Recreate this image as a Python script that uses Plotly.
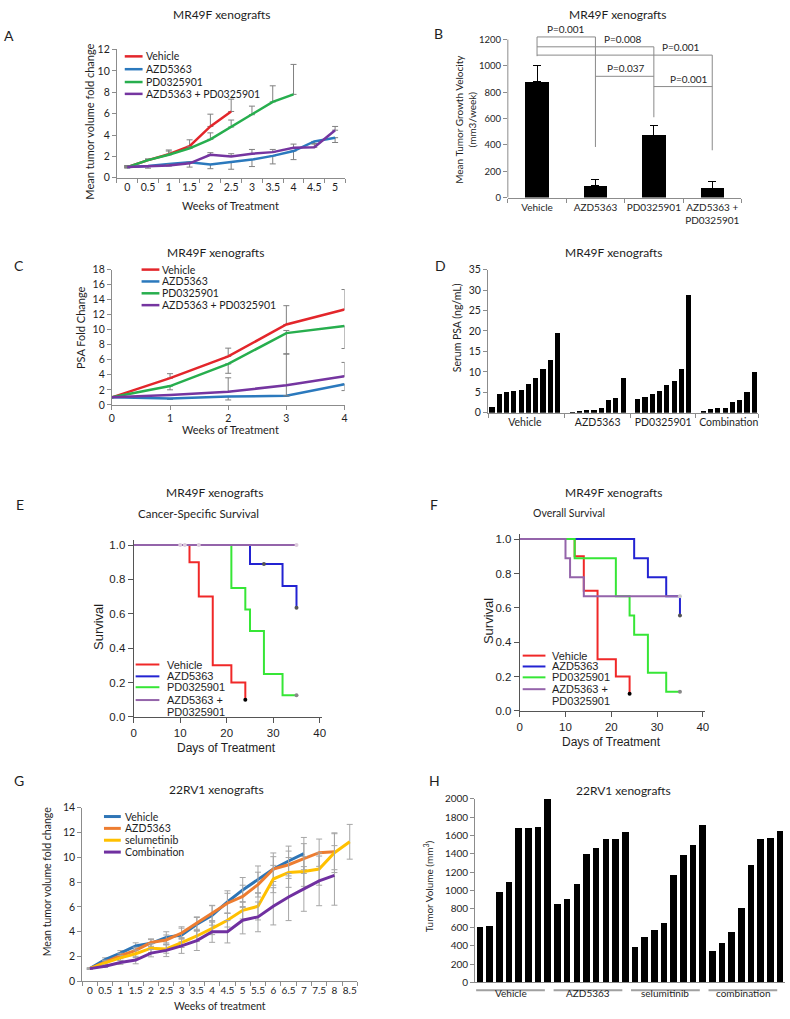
import plotly.graph_objects as go

W, H = 790, 1019

# ===================== DATA =====================
# Panel A  (MR49F tumour volume fold change)
A_weeks = ["0", "0.5", "1", "1.5", "2", "2.5", "3", "3.5", "4", "4.5", "5"]
A_vehicle = [1.0, 1.65, 2.2, 2.95, 4.8, 6.2]
A_vehicle_err = [0.15, 0.1, 0.4, 0.6, 1.15, 1.15]
A_azd = [1.0, 1.1, 1.3, 1.45, 1.25, 1.45, 1.7, 2.05, 2.5, 3.4, 3.75]
A_azd_err = [0.1, 0.2, 0.2, 0.45, 0.4, 0.65, 0.65, 0.75, 0.8, 0.2, 0.45]
A_pd = [1.0, 1.65, 2.15, 2.75, 3.6, 4.75, 5.9, 7.1, 7.8]
A_pd_err = [0.1, 0.1, 0.35, 0.15, 0.6, 0.65, 0.8, 1.5, 2.8]
A_combo = [1.0, 1.05, 1.15, 1.35, 2.15, 2.0, 2.25, 2.4, 2.8, 2.85, 4.45]
A_combo_err = [0.1, 0.1, 0.1, 0.1, 0.2, 0.25, 0.4, 0.25, 0.35, 0.3, 0.35]

# Panel B  (growth velocity)
B_groups = ["Vehicle", "AZD5363", "PD0325901", "AZD5363 +<br>PD0325901"]
B_velocity = [880, 90, 475, 70]
B_err = [120, 45, 75, 55]
B_brackets = [(0, 1, 1220), (0, 2, 1145), (0, 3, 1082), (1, 2, 921), (2, 3, 843)]
B_pvals = ["P=0.001", "P=0.008", "P=0.001", "P=0.037", "P=0.001"]
B_pval_x = [0.5, 1.48, 2.47, 1.53, 2.61]
B_drops = [(0, 1220, 1074), (1, 1220, 384), (2, 1145, 610), (3, 1082, 359)]

# Panel C  (PSA fold change)
C_weeks = [0, 1, 2, 3, 4]
C_vehicle = [1.0, 3.55, 6.45, 10.7, 12.7]
C_vehicle_plus = [0, 0.6, 1.1, 2.5, 2.65]
C_azd = [1.0, 0.85, 1.1, 1.2, 2.75]
C_azd_minus = [0, 0.12, 0.45, 0, 0.85]
C_pd = [1.0, 2.5, 5.45, 9.55, 10.5]
C_pd_plus = [0, 0, 0, 0.35, 0]
C_pd_minus = [0, 0.5, 1.25, 2.8, 3.0]
C_combo = [1.0, 1.3, 1.75, 2.6, 3.8]
C_combo_plus = [0, 0, 1.85, 4.2, 1.85]
C_combo_minus = [0, 0, 0, 1.4, 0]

# Panel D  (serum PSA per animal)
D_groups = ["Vehicle", "AZD5363", "PD0325901", "Combination"]
D_vehicle = [1.3, 4.6, 5.0, 5.3, 5.5, 7.1, 8.4, 10.6, 13.0, 19.5]
D_azd = [0.2, 0.5, 0.6, 0.7, 1.2, 3.0, 3.6, 8.4]
D_pd = [3.3, 3.9, 4.5, 5.2, 6.9, 7.7, 10.6, 28.7]
D_combo = [0.5, 0.8, 1.1, 1.1, 2.7, 3.1, 5.0, 9.9]

# Panel E  (cancer-specific survival, Kaplan-Meier steps)
E_vehicle_t = [0, 12, 14, 17, 21, 24]
E_vehicle_s = [1.0, 0.9, 0.7, 0.3, 0.2, 0.1]
E_azd_t = [0, 25, 32, 35]
E_azd_s = [1.0, 0.889, 0.762, 0.635]
E_pd_t = [0, 21, 24, 25, 28, 32, 35]
E_pd_s = [1.0, 0.75, 0.625, 0.5, 0.25, 0.125, 0.125]
E_combo_t = [0, 35]
E_combo_s = [1.0, 1.0]
E_cens_vehicle = ([24], [0.1])
E_cens_azd = ([28, 35], [0.889, 0.635])
E_cens_pd = ([35], [0.125])
E_cens_combo = ([10, 11, 14, 35], [1.0, 1.0, 1.0, 1.0])

# Panel F  (overall survival)
F_vehicle_t = [0, 12, 14, 17, 21, 24]
F_vehicle_s = [1.0, 0.9, 0.7, 0.3, 0.2, 0.1]
F_azd_t = [0, 25, 28, 32, 35]
F_azd_s = [1.0, 0.889, 0.778, 0.667, 0.556]
F_pd_t = [0, 12, 21, 24, 25, 28, 32, 35]
F_pd_s = [1.0, 0.889, 0.667, 0.556, 0.444, 0.222, 0.111, 0.111]
F_combo_t = [0, 10, 11, 14, 35]
F_combo_s = [1.0, 0.889, 0.778, 0.667, 0.667]
F_cens_vehicle = ([24], [0.1])
F_cens_azd = ([35], [0.556])
F_cens_pd = ([35], [0.111])
F_cens_combo = ([35], [0.667])

# Panel G  (22RV1 tumour volume fold change)
G_weeks = ["0", "0.5", "1", "1.5", "2", "2.5", "3", "3.5", "4", "4.5", "5",
           "5.5", "6", "6.5", "7", "7.5", "8", "8.5"]
G_vehicle = [1.03, 1.75, 2.28, 2.86, 3.07, 3.55, 3.74, 4.6, 5.33, 6.4, 7.37,
             8.2, 9.05, 9.7, 10.3]
G_vehicle_err = [0.05, 0.15, 0.2, 0.25, 0.3, 0.45, 0.55, 0.55, 0.8, 0.9, 1.0,
                 1.1, 1.3, 1.2, 1.3]
G_azd = [1.03, 1.56, 2.07, 2.5, 3.13, 3.34, 3.9, 4.7, 5.5, 6.3, 6.85, 7.8,
         9.05, 9.4, 9.9, 10.37, 10.45]
G_azd_err = [0.05, 0.15, 0.2, 0.25, 0.3, 0.4, 0.5, 0.5, 0.6, 0.8, 0.9, 1.0,
             1.0, 1.1, 1.2, 1.1, 1.45]
G_selu = [1.03, 1.5, 1.9, 2.23, 2.68, 2.62, 3.13, 3.66, 4.27, 4.93, 5.73,
          6.05, 8.25, 8.78, 8.86, 9.05, 10.37, 11.25]
G_selu_err = [0.05, 0.15, 0.2, 0.3, 0.35, 0.35, 0.4, 0.45, 0.5, 0.55, 0.7,
              1.1, 1.1, 1.2, 1.2, 1.3, 1.6, 1.4]
G_combo = [1.03, 1.22, 1.53, 1.72, 2.28, 2.5, 2.86, 3.29, 4.0, 4.0, 4.93,
           5.2, 6.05, 6.8, 7.45, 8.1, 8.54]
G_combo_err = [0.05, 0.1, 0.15, 0.3, 0.3, 0.5, 0.6, 0.8, 0.85, 0.9, 1.1,
               1.2, 1.5, 1.9, 1.8, 2.0, 2.4]

# Panel H  (22RV1 tumour volume per animal)
H_groups = ["Vehicle", "AZD5363", "selumitinib", "combination"]
H_vehicle = [607, 618, 989, 1089, 1686, 1686, 1689, 2000]
H_azd = [857, 911, 1071, 1400, 1464, 1564, 1564, 1636]
H_selu = [382, 496, 571, 643, 1171, 1386, 1500, 1718]
H_combo = [339, 429, 546, 811, 1282, 1561, 1571, 1650]

# ===================== STYLE HELPERS =====================
LATO = "Lato"
ARIAL = "Liberation Sans"
TXT = "#1e1e1e"
AXC = "#8c8c8c"


def px(x):
    return x / W


def py(y):
    return 1 - y / H


annotations = []
shapes = []


def text(x, y, s, size, family=LATO, angle=0, xanchor="center",
         yanchor="middle", color=TXT):
    annotations.append(dict(x=px(x), y=py(y), xref="paper", yref="paper",
                            text=s, showarrow=False, textangle=angle,
                            xanchor=xanchor, yanchor=yanchor,
                            font=dict(family=family, size=size, color=color)))


def legend(items, x0, x1, xt, ys, size, family, lw):
    for (name, color), y in zip(items, ys):
        if color is not None:
            shapes.append(dict(type="line", xref="paper", yref="paper",
                               x0=px(x0), x1=px(x1), y0=py(y), y1=py(y),
                               line=dict(color=color, width=lw)))
        text(xt, y, name, size, family, xanchor="left")


def excel_axis(size, **kw):
    d = dict(showline=True, linecolor=AXC, linewidth=1, ticks="outside",
             tickcolor=AXC, ticklen=4, tickwidth=1, showgrid=False,
             zeroline=False, tickangle=0,
             tickfont=dict(family=LATO, size=size, color=TXT))
    d.update(kw)
    return d


def sigma_axis(**kw):
    d = dict(showline=True, linecolor="#555555", linewidth=1, ticks="outside",
             tickcolor="#555555", ticklen=5, tickwidth=1, showgrid=False,
             zeroline=False, tickangle=0,
             tickfont=dict(family=ARIAL, size=11.5, color=TXT))
    d.update(kw)
    return d


def err(plus, minus, color="#808080", width=3):
    return dict(type="data", array=plus, arrayminus=minus, symmetric=False,
                color=color, thickness=1, width=width, visible=True)


def zeros(n):
    return [0] * n


fig = go.Figure()

# ===================== PANEL A =====================
cA = {"Vehicle": "#E3262B", "AZD5363": "#2B79BD", "PD0325901": "#27AE4E",
      "AZD5363 + PD0325901": "#7535A0"}
A_series = [
    ("Vehicle", A_vehicle, A_vehicle_err, None),
    ("AZD5363", A_azd, None, A_azd_err),
    ("PD0325901", A_pd, A_pd_err, None),
    ("AZD5363 + PD0325901", A_combo, A_combo_err, None),
]
for name, vals, plus, minus in A_series:
    n = len(vals)
    fig.add_trace(go.Scatter(
        x=A_weeks[:n], y=vals, mode="lines", name=name, showlegend=False,
        line=dict(color=cA[name], width=2.5),
        error_y=err(plus if plus else zeros(n), minus if minus else zeros(n)),
        xaxis="x", yaxis="y"))
legend([(k, v) for k, v in cA.items()], 123, 141, 142, [50, 63, 76, 88],
       10.5, LATO, 2.5)

# ===================== PANEL B =====================
fig.add_trace(go.Bar(
    x=B_groups, y=B_velocity, marker=dict(color="black", line=dict(width=0)),
    width=0.4, showlegend=False,
    error_y=err(B_err, zeros(len(B_err)), color="black", width=4),
    xaxis="x2", yaxis="y2"))
for (i, j, yv) in B_brackets:
    shapes.append(dict(type="line", xref="x2", yref="y2", x0=i, x1=j,
                       y0=yv, y1=yv, line=dict(color="#8a8a8a", width=1)))
for (i, y0, y1) in B_drops:
    shapes.append(dict(type="line", xref="x2", yref="y2", x0=i, x1=i,
                       y0=y0, y1=y1, line=dict(color="#8a8a8a", width=1)))
for (i, j, yv), lab, xl in zip(B_brackets, B_pvals, B_pval_x):
    annotations.append(dict(x=xl, y=yv, xref="x2", yref="y2", text=lab,
                            showarrow=False, yanchor="bottom", yshift=0,
                            font=dict(family=LATO, size=10, color=TXT)))
# y-axis line only up to the top tick
shapes.append(dict(type="line", xref="x2 domain", yref="y2", x0=0, x1=0,
                   y0=0, y1=1200, line=dict(color=AXC, width=1)))

# ===================== PANEL C =====================
C_series = [
    ("Vehicle", C_vehicle, C_vehicle_plus, zeros(5)),
    ("AZD5363", C_azd, zeros(5), C_azd_minus),
    ("PD0325901", C_pd, C_pd_plus, C_pd_minus),
    ("AZD5363 + PD0325901", C_combo, C_combo_plus, C_combo_minus),
]
for name, vals, plus, minus in C_series:
    fig.add_trace(go.Scatter(
        x=C_weeks, y=vals, mode="lines", showlegend=False,
        line=dict(color=cA[name], width=2.5),
        error_y=err(plus, minus), xaxis="x3", yaxis="y3"))
legend([(k, v) for k, v in cA.items()], 140, 158, 159, [266, 278, 290, 302],
       10.5, LATO, 2.5)

# ===================== PANEL D =====================
D_x, D_y, D_centers, D_bounds = [], [], [], []
cur = 0
for vals in [D_vehicle, D_azd, D_pd, D_combo]:
    start = cur
    for v in vals:
        D_x.append(cur)
        D_y.append(v)
        cur += 1
    D_centers.append((start + cur - 1) / 2)
    D_bounds.append(cur)
    cur += 1
fig.add_trace(go.Bar(x=D_x, y=D_y, width=0.7, showlegend=False,
                     marker=dict(color="black", line=dict(width=0)),
                     xaxis="x4", yaxis="y4"))

# ===================== PANEL E / F =====================
cK = {"Vehicle": "#F02828", "AZD5363": "#2323D2", "PD0325901": "#36E636",
      "AZD5363 +": "#9464AA"}


def km(panel_axes, curves, cens):
    xa, ya = panel_axes
    for (t, s), col in curves:
        fig.add_trace(go.Scatter(x=t, y=s, mode="lines", showlegend=False,
                                 line=dict(color=col, width=2, shape="hv"),
                                 xaxis=xa, yaxis=ya))
    for (cx, cy), col in cens:
        fig.add_trace(go.Scatter(x=cx, y=cy, mode="markers", showlegend=False,
                                 marker=dict(color=col, size=4),
                                 xaxis=xa, yaxis=ya))


km(("x5", "y5"),
   [((E_vehicle_t, E_vehicle_s), cK["Vehicle"]),
    ((E_azd_t, E_azd_s), cK["AZD5363"]),
    ((E_pd_t, E_pd_s), cK["PD0325901"]),
    ((E_combo_t, E_combo_s), cK["AZD5363 +"])],
   [(E_cens_vehicle, "black"), (E_cens_azd, "#555555"),
    (E_cens_pd, "#888888"), (E_cens_combo, "#dccbdc")])
km(("x6", "y6"),
   [((F_vehicle_t, F_vehicle_s), cK["Vehicle"]),
    ((F_azd_t, F_azd_s), cK["AZD5363"]),
    ((F_pd_t, F_pd_s), cK["PD0325901"]),
    ((F_combo_t, F_combo_s), cK["AZD5363 +"])],
   [(F_cens_vehicle, "black"), (F_cens_azd, "#555555"),
    (F_cens_pd, "#888888"), (F_cens_combo, "#cccccc")])
km_leg = [("Vehicle", cK["Vehicle"]), ("AZD5363", cK["AZD5363"]),
          ("PD0325901", cK["PD0325901"]), ("AZD5363 +", cK["AZD5363 +"]),
          ("PD0325901", None)]
legend(km_leg, 134, 158, 164, [666, 678, 689, 702, 714], 11, ARIAL, 2)
legend(km_leg, 525, 548, 553, [657, 668, 679, 691, 703], 11, ARIAL, 2)

# ===================== PANEL G =====================
cG = {"Vehicle": "#2E75B6", "AZD5363": "#ED7D31", "selumetinib": "#FFC000",
      "Combination": "#7030A0"}
G_series = [("Vehicle", G_vehicle, G_vehicle_err),
            ("AZD5363", G_azd, G_azd_err),
            ("selumetinib", G_selu, G_selu_err),
            ("Combination", G_combo, G_combo_err)]
for name, vals, e in G_series:
    n = len(vals)
    fig.add_trace(go.Scatter(
        x=G_weeks[:n], y=vals, mode="lines", showlegend=False,
        line=dict(color=cG[name], width=3),
        error_y=err(e, e, color="#a6a6a6", width=3),
        xaxis="x7", yaxis="y7"))
legend([(k, v) for k, v in cG.items()], 102, 119, 121, [820, 832, 844, 856],
       10.5, LATO, 3)

# ===================== PANEL H =====================
H_x, H_y, H_spans = [], [], []
cur = 0
for vals in [H_vehicle, H_azd, H_selu, H_combo]:
    start = cur
    for v in vals:
        H_x.append(cur)
        H_y.append(v)
        cur += 1
    H_spans.append((start, cur - 1))
fig.add_trace(go.Bar(x=H_x, y=H_y, width=0.68, showlegend=False,
                     marker=dict(color="black", line=dict(width=0)),
                     xaxis="x8", yaxis="y8"))
for (s0, s1), g in zip(H_spans, H_groups):
    shapes.append(dict(type="line", xref="x8", yref="paper",
                       x0=s0 - 0.4, x1=s1 - 0.3, y0=py(996), y1=py(996),
                       line=dict(color="#a0a0a0", width=2)))
    annotations.append(dict(x=(s0 + s1) / 2 - 0.35, y=py(1007), xref="x8",
                            yref="paper", text=g, showarrow=False,
                            font=dict(family=LATO, size=10, color=TXT)))

# ===================== TEXT =====================
for lab, x, y in [("A", 6, 29), ("B", 440, 27), ("C", 16, 262), ("D", 442, 262),
                  ("E", 17, 504), ("F", 435, 504), ("G", 16, 783), ("H", 436, 784)]:
    text(x, y, lab, 14, LATO)

text(221, 8, "MR49F xenografts", 12)
text(621, 8, "MR49F xenografts", 12)
text(215, 249, "MR49F xenografts", 12)
text(617, 249, "MR49F xenografts", 12)
text(214, 492, "MR49F xenografts", 12)
text(197, 513, "Cancer-Specific Survival", 11.5)
text(617, 492, "MR49F xenografts", 12)
text(572, 513, "Overall Survival", 10.5)
text(216, 793, "22RV1 xenografts", 12)
text(627, 794, "22RV1 xenografts", 12)

text(87, 116, "Mean tumor volume fold change", 11, angle=-90)
text(230, 201, "Weeks of Treatment", 11)
text(467, 114, "Mean Tumor Growth Velocity<br>(mm3/week)", 10, angle=-90)
text(79, 325, "PSA Fold Change", 11, angle=-90)
text(230, 428, "Weeks of Treatment", 11)
text(458, 325, "Serum PSA (ng/mL)", 10.5, angle=-90)
text(97, 628, "Survival", 13, ARIAL, angle=-90)
text(226, 751, "Days of Treatment", 12, ARIAL)
text(490, 622, "Survival", 13, ARIAL, angle=-90)
text(615, 745, "Days of Treatment", 12, ARIAL)
text(44, 886, "Mean tumor volume fold change", 10.5, angle=-90)
text(219, 1012, "Weeks of treatment", 10.5)
text(430, 891, "Tumor Volume (mm<sup>3</sup>)", 10, angle=-90)

# ===================== LAYOUT =====================
fig.update_layout(
    width=W, height=H, margin=dict(l=0, r=0, t=0, b=0),
    paper_bgcolor="white", plot_bgcolor="white", showlegend=False,
    bargap=0, hovermode=False,
    xaxis=excel_axis(10.5, domain=[px(115), px(346)], anchor="y",
                     type="category", categoryorder="array",
                     categoryarray=A_weeks, tickson="boundaries",
                     range=[-0.5, 10.5]),
    yaxis=excel_axis(10.5, domain=[py(173), py(43)], anchor="x",
                     range=[0, 12], dtick=2),
    xaxis2=excel_axis(10, domain=[px(510), px(746)], anchor="y2",
                      type="category", tickson="boundaries",
                      range=[-0.5, 3.5]),
    yaxis2=excel_axis(9.5, domain=[py(193), py(193 - 1300 / 1200 * 160)],
                      anchor="x2", range=[0, 1300],
                      tickvals=[0, 200, 400, 600, 800, 1000, 1200],
                      showline=False),
    xaxis3=excel_axis(10.5, domain=[px(110), px(345)], anchor="y3",
                      range=[0, 4], dtick=1),
    yaxis3=excel_axis(10.5, domain=[py(403), py(266)], anchor="x3",
                      range=[0, 18], dtick=2),
    xaxis4=excel_axis(10.5, domain=[px(490), px(763)], anchor="y4",
                      range=[-0.55, 36.55], tickvals=D_centers,
                      ticktext=D_groups, ticks="",
                      minor=dict(tickmode="array",
                                 tickvals=[-0.55] + D_bounds[:-1] + [36.55],
                                 ticks="outside", ticklen=4, tickcolor=AXC)),
    yaxis4=excel_axis(10.5, domain=[py(411), py(266)], anchor="x4",
                      range=[0, 35], dtick=5),
    xaxis5=sigma_axis(domain=[px(132), px(132 + 188 * 40.4 / 40)], anchor="y5",
                      range=[0, 40.4], tickvals=[0, 10, 20, 30, 40]),
    yaxis5=sigma_axis(domain=[py(719), py(719 - 1.03 * 174)], anchor="x5",
                      range=[0, 1.03], tickvals=[0, 0.2, 0.4, 0.6, 0.8, 1.0],
                      tickformat=".1f"),
    xaxis6=sigma_axis(domain=[px(522), px(522 + 185 * 40.4 / 40)], anchor="y6",
                      range=[0, 40.4], tickvals=[0, 10, 20, 30, 40]),
    yaxis6=sigma_axis(domain=[py(713), py(713 - 1.03 * 174)], anchor="x6",
                      range=[0, 1.03], tickvals=[0, 0.2, 0.4, 0.6, 0.8, 1.0],
                      tickformat=".1f"),
    xaxis7=excel_axis(10, domain=[px(80), px(358)], anchor="y7",
                      type="category", categoryorder="array",
                      categoryarray=G_weeks, tickson="boundaries",
                      range=[-0.5, 17.5]),
    yaxis7=excel_axis(10.5, domain=[py(987), py(811)], anchor="x7",
                      range=[0, 14], dtick=2),
    xaxis8=excel_axis(10, domain=[px(477), px(790)], anchor="y8",
                      range=[-0.5, 31.5], showticklabels=False, ticks=""),
    yaxis8=excel_axis(10, domain=[py(988), py(802)], anchor="x8",
                      range=[0, 2000], dtick=200),
    annotations=annotations,
    shapes=shapes,
)

fig.write_html(
    "out.html",
    config={"displayModeBar": False, "staticPlot": True},
    post_script="document.body.style.margin='0';"
                "document.body.style.overflow='hidden';",
)
